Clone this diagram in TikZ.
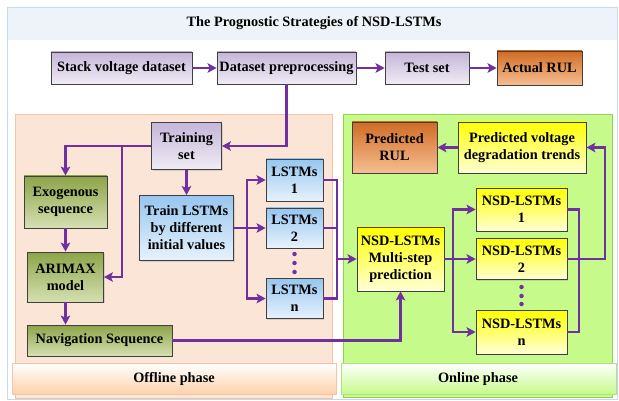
\documentclass[tikz,border=0pt]{standalone}
\usepackage{fontspec}
\setmainfont{Liberation Serif}
\usepackage{tikz}
\usetikzlibrary{arrows.meta, positioning, shapes, calc, shadows}
\usepackage{xcolor}

\definecolor{arrowpurple}{RGB}{112,48,160}
\definecolor{boxline}{RGB}{64,64,64}
\definecolor{lavtop}{RGB}{196,182,216}
\definecolor{lavbot}{RGB}{240,236,245}
\definecolor{orangetop}{RGB}{208,108,36}
\definecolor{orangebot}{RGB}{246,190,146}
\definecolor{greentop}{RGB}{140,164,72}
\definecolor{greenbot}{RGB}{214,224,178}
\definecolor{bluetop}{RGB}{150,198,240}
\definecolor{bluebot}{RGB}{232,242,252}
\definecolor{yellowtop}{RGB}{255,255,0}
\definecolor{yellowbot}{RGB}{255,255,214}
\definecolor{offfill}{RGB}{251,229,214}
\definecolor{offline}{RGB}{246,196,160}
\definecolor{onfill}{RGB}{198,250,138}
\definecolor{online}{RGB}{146,208,80}
\definecolor{framecol}{RGB}{197,217,241}
\definecolor{titlefill}{RGB}{238,243,249}

\tikzset{
  box/.style={draw=boxline, line width=0.8pt, align=center, inner sep=1pt,
    font=\bfseries\fontsize{14.3}{17}\selectfont,
    drop shadow={shadow xshift=1.2pt, shadow yshift=-1.2pt, opacity=0.25}},
  purplebox/.style={box, top color=lavtop, bottom color=lavbot},
  orangebox/.style={box, top color=orangetop, bottom color=orangebot},
  greenbox/.style={box, top color=greentop, bottom color=greenbot},
  bluebox/.style={box, top color=bluetop, bottom color=bluebot},
  yellowbox/.style={box, top color=yellowtop, bottom color=yellowbot},
  wire/.style={draw=arrowpurple, line width=2.4pt},
  arr/.style={wire, -{Stealth[length=9pt,width=9.5pt,inset=2pt]}},
  vdot/.style={fill=arrowpurple, circle, inner sep=0pt, minimum size=4.5pt},
  phase/.style={font=\bfseries\fontsize{14.3}{17}\selectfont},
}

\begin{document}
\begin{tikzpicture}[x=1pt, y=-1pt]
        \useasboundingbox (0,0) rectangle (619,401);

        % Frame and panels
        \fill[titlefill] (7,8) rectangle (617,40);
        \draw[framecol, line width=1pt] (7,8) rectangle (617,399);
        \node[phase] (title) at (314,23) {The Prognostic Strategies of NSD-LSTMs};

        \draw[offline, fill=offfill, line width=0.8pt] (15,114) rectangle (332,398);
        \draw[online, fill=onfill, line width=0.8pt] (343,114) rectangle (612,397);
        \draw[offline, line width=0.6pt, top color=white, bottom color=offfill!70!orange!80] (12,363) rectangle (336,394);
        \draw[online!70, line width=0.6pt, top color=white, bottom color=onfill] (341,363) rectangle (616,394);
        \node[phase] (offlab) at (174,379) {Offline phase};
        \node[phase] (onlab) at (478,379) {Online phase};

        % Top row
        \node[purplebox, minimum width=141pt, minimum height=32pt] (stack) at (121.5,68) {Stack voltage dataset};
        \node[purplebox, minimum width=139pt, minimum height=32pt] (prep) at (286.5,68) {Dataset preprocessing};
        \node[purplebox, minimum width=84pt, minimum height=32pt] (test) at (427,68) {Test set};
        \node[orangebox, minimum width=85pt, minimum height=34pt] (actual) at (539.5,68) {Actual RUL};

        % Offline phase
        \node[purplebox, minimum width=70pt, minimum height=47pt] (train) at (186.5,146) {Training\\set};
        \node[greenbox, minimum width=83pt, minimum height=52pt] (exo) at (65.5,202) {Exogenous\\sequence};
        \node[greenbox, minimum width=76pt, minimum height=50pt] (arima) at (65.5,277) {ARIMAX\\model};
        \node[greenbox, minimum width=145pt, minimum height=31pt] (nav) at (99.5,340.5) {Navigation Sequence};
        \node[bluebox, minimum width=94pt, minimum height=65pt] (trainl) at (186.5,228) {Train LSTMs\\by different\\initial values};
        \node[bluebox, minimum width=57pt, minimum height=42pt] (l1) at (294.5,180) {LSTMs\\1};
        \node[bluebox, minimum width=57pt, minimum height=40pt] (l2) at (294.5,228) {LSTMs\\2};
        \node[bluebox, minimum width=57pt, minimum height=40pt] (ln) at (294.5,298.5) {LSTMs\\n};
        \node[vdot] (ld1) at (294.5,254) {};
        \node[vdot] (ld2) at (294.5,263) {};
        \node[vdot] (ld3) at (294.5,272) {};

        % Online phase
        \node[orangebox, minimum width=85pt, minimum height=51pt] (prul) at (394.5,147.5) {Predicted\\RUL};
        \node[yellowbox, minimum width=128pt, minimum height=51pt] (trend) at (522,147.5) {Predicted voltage\\degradation trends};
        \node[yellowbox, minimum width=87pt, minimum height=64pt] (multi) at (400.5,259) {NSD-LSTMs\\Multi-step\\prediction};
        \node[yellowbox, minimum width=91pt, minimum height=43pt] (n1) at (521.5,209.5) {NSD-LSTMs\\1};
        \node[yellowbox, minimum width=91pt, minimum height=41pt] (n2) at (521.5,259) {NSD-LSTMs\\2};
        \node[yellowbox, minimum width=91pt, minimum height=44pt] (nn) at (521.5,332) {NSD-LSTMs\\n};
        \node[vdot] (nd1) at (521.5,287) {};
        \node[vdot] (nd2) at (521.5,296) {};
        \node[vdot] (nd3) at (521.5,304) {};

        % Bus points
        \coordinate (tbus) at (122,146);
        \coordinate (lbus) at (247,228);
        \coordinate (rbus) at (337,259);
        \coordinate (nbus) at (453,259);
        \coordinate (obus) at (579,259);
        \coordinate (ebus) at (605,259);

        % Connectors
        \draw[arr] (stack.east) -- (prep.west);
        \draw[arr] (prep.east) -- (test.west);
        \draw[arr] (test.east) -- (actual.west);
        \draw[arr] (prep.south) |- (train.east);
        \draw[arr] (train.west) -| (exo.north);
        \draw[arr] (tbus) |- (arima.east);
        \draw[arr] (exo.south) -- (arima.north);
        \draw[arr] (arima.south) -- (arima.south |- nav.north);
        \draw[arr] (train.south) -- (trainl.north);
        \draw[arr] (trainl.east) -- (l2.west);
        \draw[arr] (lbus) |- (l1.west);
        \draw[arr] (lbus) |- (ln.west);
        \draw[wire] (l1.east) -| (rbus);
        \draw[wire] (l2.east) -| (rbus);
        \draw[wire] (ln.east) -| (rbus);
        \draw[arr] (rbus) -- (multi.west);
        \draw[arr] (nav.east) -| (multi.south);
        \draw[arr] (multi.east) -- (n2.west);
        \draw[arr] (nbus) |- (n1.west);
        \draw[arr] (nbus) |- (nn.west);
        \draw[wire] (n1.east) -| (obus);
        \draw[wire] (nn.east) -| (obus);
        \draw[arr] (n2.east) -- (ebus) |- (trend.east);
        \draw[arr] (trend.west) -- (prul.east);
    \end{tikzpicture}
\end{document}
